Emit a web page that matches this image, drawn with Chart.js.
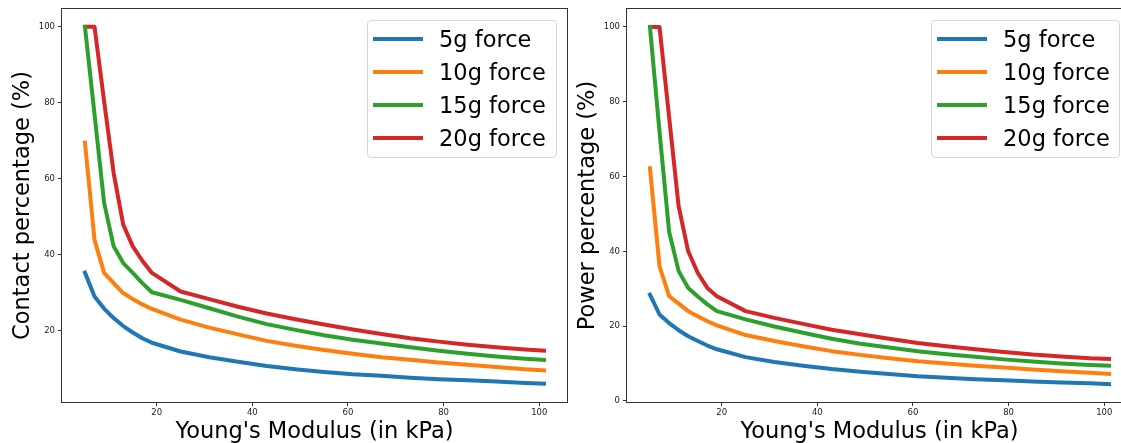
<!DOCTYPE html>
<html>
<head>
<meta charset="utf-8">
<script src="https://cdn.jsdelivr.net/npm/chart.js@4.4.1/dist/chart.umd.min.js"></script>
<style>
  body { margin: 0; width: 1121px; height: 443px; overflow: hidden; background: #fff; position: relative; font-family: "DejaVu Sans", sans-serif; }
  .plot { position: absolute; top: 0; }
  .legend { position: absolute; box-sizing: border-box; border: 1px solid #d8d8d8; border-radius: 4px; background: rgba(255,255,255,0.8); }
  .row { position: absolute; left: 0; height: 33px; display: flex; align-items: center; font-size: 22.5px; color: #000; white-space: nowrap; }
  .swatch { width: 50px; height: 4px; margin-left: 5px; margin-right: 16px; }
</style>
</head>
<body>
<canvas id="contactChart" class="plot" width="570" height="443" style="left:0px"></canvas>
<canvas id="powerChart" class="plot" width="565" height="443" style="left:570px"></canvas>

<script>
// Young's modulus (kPa) sample points
const modulus = [5, 7, 9, 11, 13, 15, 17, 19, 25, 31, 37, 43, 49, 55, 61, 67, 73, 79, 85, 91, 97, 101];

const forceLabels = ['5g force', '10g force', '15g force', '20g force'];
const forceColors = ['#1f77b4', '#ff7f0e', '#2ca02c', '#d62728'];

// contact percentage (%), left plot
const contact5 = [35.3, 29.0, 25.8, 23.3, 21.2, 19.5, 18.0, 16.8, 14.5, 13.0, 11.8, 10.7, 9.8, 9.1, 8.5, 8.1, 7.6, 7.2, 6.9, 6.6, 6.2, 6.0];
const contact10 = [69.5, 43.9, 35.2, 32.5, 29.9, 28.3, 26.9, 25.7, 22.9, 20.8, 19.0, 17.3, 16.0, 14.9, 13.9, 13.0, 12.3, 11.6, 11.0, 10.4, 9.8, 9.5];
const contact15 = [100, 77, 53.7, 42.2, 37.8, 35.2, 32.5, 30.1, 28.1, 25.9, 23.7, 21.7, 20.2, 18.8, 17.6, 16.6, 15.6, 14.7, 13.9, 13.2, 12.6, 12.3];
const contact20 = [100, 100, 80.5, 61.5, 47.9, 42.2, 38.4, 35.2, 30.3, 28.3, 26.3, 24.5, 23.0, 21.6, 20.3, 19.1, 18.0, 17.1, 16.3, 15.6, 15.0, 14.7];

// power percentage (%), right plot
const power5 = [28.4, 23.1, 20.8, 18.9, 17.3, 16.0, 14.8, 13.8, 11.7, 10.4, 9.4, 8.5, 7.8, 7.2, 6.6, 6.2, 5.8, 5.5, 5.2, 4.9, 4.7, 4.5];
const power10 = [62.2, 36.0, 28.0, 26.0, 24.0, 22.6, 21.3, 20.2, 17.6, 16.0, 14.6, 13.3, 12.3, 11.4, 10.6, 10.0, 9.4, 8.9, 8.4, 7.9, 7.5, 7.2];
const power15 = [100, 72, 45.3, 34.7, 30.2, 27.9, 25.8, 24.0, 21.8, 19.9, 18.2, 16.6, 15.3, 14.3, 13.3, 12.5, 11.8, 11.1, 10.5, 10.0, 9.6, 9.4];
const power20 = [100, 100, 76, 52.0, 40.0, 34.2, 30.2, 28.0, 24.0, 22.2, 20.6, 19.0, 17.8, 16.6, 15.5, 14.6, 13.8, 13.1, 12.4, 11.9, 11.4, 11.2];

const xTicks = [20, 40, 60, 80, 100];
const contactTicks = [20, 40, 60, 80, 100];
const powerTicks = [0, 20, 40, 60, 80, 100];

const frame = {
  id: 'frame',
  afterDraw(chart) {
    const { ctx, chartArea: a } = chart;
    ctx.save();
    ctx.strokeStyle = '#333';
    ctx.lineWidth = 1;
    ctx.strokeRect(Math.round(a.left) - 0.5, Math.round(a.top) - 0.5, Math.round(a.right - a.left) + 1, Math.round(a.bottom - a.top) + 1);
    ctx.restore();
  }
};

function makeChart(id, yTitle, series, yMin, yMax, yTicks, yWidth, titlePad) {
  const datasets = series.map((s, i) => ({
    label: forceLabels[i],
    data: modulus.map((x, j) => ({ x: x, y: s[j] })),
    borderColor: forceColors[i],
    backgroundColor: forceColors[i],
    borderWidth: 4,
    pointRadius: 0,
    tension: 0,
    borderCapStyle: 'square',
    borderJoinStyle: 'round',
    fill: false
  }));

  const tickFont = { family: 'DejaVu Sans', size: 8.5 };
  return new Chart(document.getElementById(id), {
    type: 'line',
    data: { datasets: datasets },
    options: {
      responsive: false,
      animation: false,
      layout: { padding: { top: 9, right: 3, left: 0, bottom: 0 } },
      plugins: { legend: { display: false }, tooltip: { enabled: false } },
      scales: {
        x: {
          type: 'linear',
          min: 0.2,
          max: 105.8,
          afterBuildTicks: (scale) => { scale.ticks = xTicks.map(v => ({ value: v })); },
          afterFit: (scale) => { scale.height = 41; },
          ticks: { font: tickFont, color: '#222', padding: 2, maxRotation: 0 },
          grid: { display: true, drawOnChartArea: false, drawTicks: true, tickLength: 4, color: '#333' },
          border: { display: false },
          title: { display: true, text: "Young's Modulus (in kPa)", color: '#000', font: { family: 'DejaVu Sans', size: 22.5, lineHeight: 1 }, padding: 0 }
        },
        y: {
          min: yMin,
          max: yMax,
          afterBuildTicks: (scale) => { scale.ticks = yTicks.map(v => ({ value: v })); },
          afterFit: (scale) => { scale.width = yWidth; },
          ticks: { font: tickFont, color: '#222', padding: 3 },
          grid: { display: true, drawOnChartArea: false, drawTicks: true, tickLength: 4, color: '#333' },
          border: { display: false },
          title: { display: true, text: yTitle, color: '#000', font: { family: 'DejaVu Sans', size: 22.5, lineHeight: 1 }, padding: { top: titlePad, bottom: 0 } }
        }
      }
    },
    plugins: [frame]
  });
}

function makeLegend(left, top, width) {
  const box = document.createElement('div');
  box.className = 'legend';
  box.style.left = left + 'px';
  box.style.top = top + 'px';
  box.style.width = width + 'px';
  box.style.height = '138px';
  forceLabels.forEach((lab, i) => {
    const row = document.createElement('div');
    row.className = 'row';
    row.style.top = (1.5 + 33 * i) + 'px';
    const sw = document.createElement('span');
    sw.className = 'swatch';
    sw.style.background = forceColors[i];
    const tx = document.createElement('span');
    tx.textContent = lab;
    row.appendChild(sw);
    row.appendChild(tx);
    box.appendChild(row);
  });
  document.body.appendChild(box);
}

makeChart('contactChart', 'Contact percentage (%)', [contact5, contact10, contact15, contact20], 1.2, 104.7, contactTicks, 62, 12);
makeChart('powerChart', 'Power percentage (%)', [power5, power10, power15, power20], -0.3, 104.8, powerTicks, 57, 7);
makeLegend(367, 20, 190);
makeLegend(931, 20, 189);
</script>
</body>
</html>
